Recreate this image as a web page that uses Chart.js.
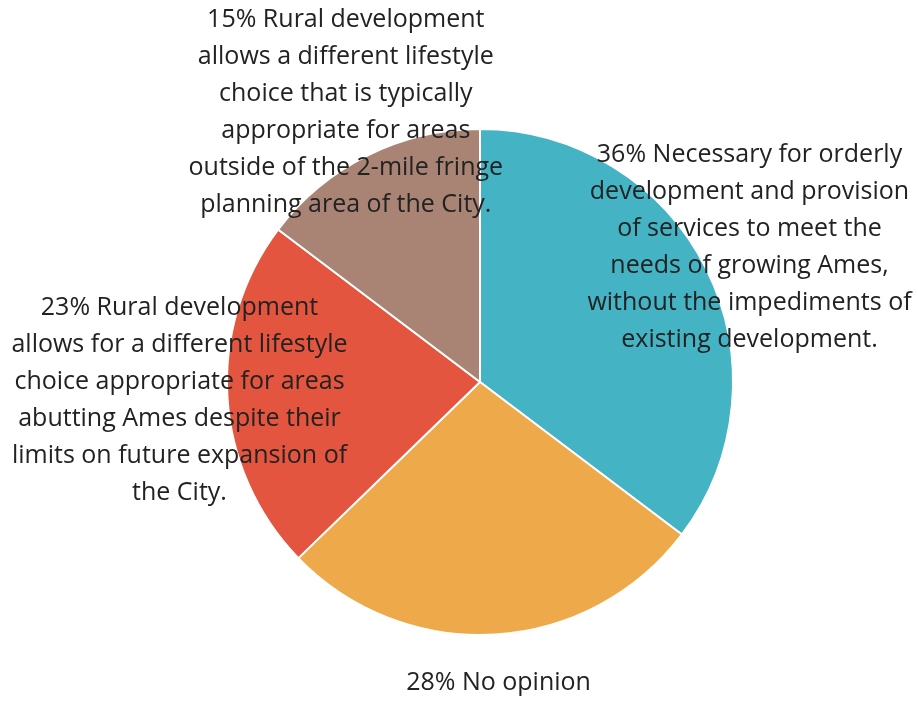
<!DOCTYPE html>
<html>
<head>
<meta charset="utf-8">
<script src="https://cdn.jsdelivr.net/npm/chart.js@4/dist/chart.umd.min.js"></script>
<style>
  html, body { margin: 0; padding: 0; background: #fff; }
  #wrap { width: 918px; height: 702px; position: relative; }
</style>
</head>
<body>
<div id="wrap"><canvas id="chart-pie"></canvas></div>
<script>
// survey answers, clockwise from 12 o'clock
const categories = [
  'Necessary for orderly development and provision of services to meet the needs of growing Ames, without the impediments of existing development.',
  'No opinion',
  'Rural development allows for a different lifestyle choice appropriate for areas abutting Ames despite their limits on future expansion of the City.',
  'Rural development allows a different lifestyle choice that is typically appropriate for areas outside of the 2-mile fringe planning area of the City.',
];
const percents = [36, 28, 23, 15];
const labelLines = [
  ['36% Necessary for orderly', 'development and provision', 'of services to meet the', 'needs of growing Ames,', 'without the impediments of', 'existing development.'],
  ['28% No opinion'],
  ['23% Rural development', 'allows for a different lifestyle', 'choice appropriate for areas', 'abutting Ames despite their', 'limits on future expansion of', 'the City.'],
  ['15% Rural development', 'allows a different lifestyle', 'choice that is typically', 'appropriate for areas', 'outside of the 2-mile fringe', 'planning area of the City.'],
];
const colors = ['#44B3C4', '#EEAA4A', '#E4553F', '#A98474'];

const FONT = '25px "Open Sans"';
const LINE_HEIGHT = 37;
const LABEL_RADIUS = 1.19;

// labels sit on the slice's mid angle, just outside the rim
const sliceLabels = {
  id: 'sliceLabels',
  afterDatasetsDraw(chart) {
    const ctx = chart.ctx;
    const arcs = chart.getDatasetMeta(0).data;
    ctx.save();
    ctx.font = FONT;
    ctx.fillStyle = '#222222';
    ctx.textAlign = 'center';
    ctx.textBaseline = 'middle';
    arcs.forEach((arc, i) => {
      const p = arc.getProps(['x', 'y', 'startAngle', 'endAngle', 'outerRadius'], true);
      const mid = (p.startAngle + p.endAngle) / 2;
      const r = p.outerRadius * LABEL_RADIUS;
      const cx = p.x + Math.cos(mid) * r;
      const cy = p.y + Math.sin(mid) * r;
      const lines = labelLines[i];
      const top = cy - (lines.length - 1) * LINE_HEIGHT / 2;
      lines.forEach((line, j) => ctx.fillText(line, cx, top + j * LINE_HEIGHT));
    });
    ctx.restore();
  },
};

new Chart(document.getElementById('chart-pie'), {
  type: 'pie',
  data: {
    labels: categories,
    datasets: [{
      data: percents,
      backgroundColor: colors,
      borderColor: '#ffffff',
      borderWidth: 2,
    }],
  },
  options: {
    responsive: true,
    maintainAspectRatio: false,
    animation: false,
    layout: { padding: { top: 128, bottom: 66, left: 42, right: 0 } },
    plugins: {
      legend: { display: false },
      tooltip: { enabled: false },
    },
  },
  plugins: [sliceLabels],
});
</script>
</body>
</html>
